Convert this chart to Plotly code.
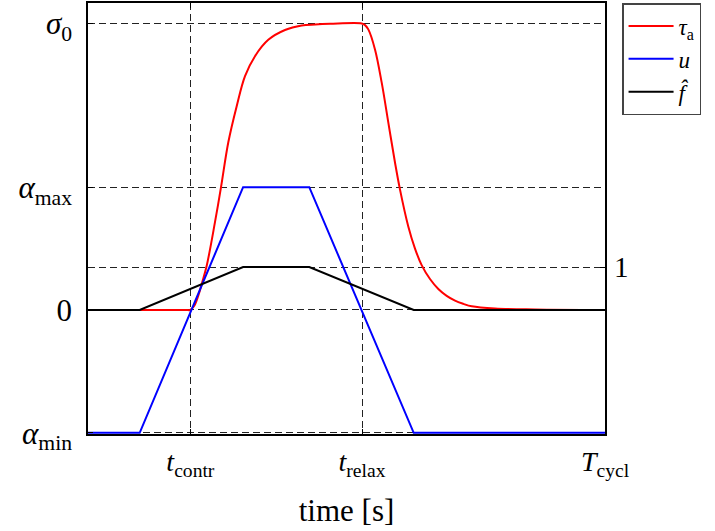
import plotly.graph_objects as go

# ---- data (time normalised to T_cycl = 1) ----
t_contr = 0.198
t_relax = 0.53
T_cycl = 1.0

alpha_min = -1.0
alpha_max = 1.0
f_one = 0.35
sigma0 = 2.333

x_ticks = [t_contr, t_relax, T_cycl]
x_ticktext = ["<i>t</i><sub>contr</sub>", "<i>t</i><sub>relax</sub>", "<i>T</i><sub>cycl</sub>"]
y_ticks = [alpha_min, 0.0, alpha_max, sigma0]
y_ticktext = ["<i>α</i><sub>min</sub>", "0", "<i>α</i><sub>max</sub>", "<i>σ</i><sub>0</sub>"]

tau_t = [0.0, 0.19, 0.1973, 0.2050, 0.2133, 0.2205, 0.2296, 0.2456, 0.2573, 0.2714, 0.2876,
         0.3037, 0.3230, 0.3487, 0.3810, 0.4133, 0.4391, 0.4681, 0.5294, 0.5358,
         0.5422, 0.5551, 0.5681, 0.5809, 0.5938, 0.6035, 0.6195, 0.6325, 0.6454,
         0.6615, 0.6776, 0.6938, 0.7099, 0.7260, 0.7422, 0.7872, 0.8646, 1.0]
tau_a = [0.0, 0.0, 0.0, 0.03, 0.116, 0.22, 0.36, 0.715, 1.0, 1.366, 1.66,
         1.905, 2.067, 2.2, 2.28, 2.317, 2.325, 2.33, 2.333, 2.32,
         2.285, 2.122, 1.851, 1.526, 1.201, 0.98, 0.68, 0.50, 0.365,
         0.252, 0.171, 0.115, 0.076, 0.050, 0.030, 0.012, 0.004, 0.0]

u_t = [0.0, 0.1, 0.3, 0.428, 0.63, 1.0]
u = [-1.0, -1.0, 1.0, 1.0, -1.0, -1.0]

f_t = [0.0, 0.1, 0.3, 0.428, 0.63, 1.0]
f_hat = [0.0, 0.0, 0.35, 0.35, 0.0, 0.0]

FONT = "Liberation Serif"
GRID = dict(showgrid=True, gridcolor="#222", griddash="7px,4px", gridwidth=1)

fig = go.Figure()
fig.add_trace(go.Scatter(x=tau_t, y=tau_a, mode="lines", name="<i>τ</i><sub>a</sub>",
                         line=dict(color="#ff0000", width=2, shape="spline", smoothing=1.0)))
fig.add_trace(go.Scatter(x=u_t, y=u, mode="lines", name="<i>u</i>",
                         line=dict(color="#0000ff", width=2)))
fig.add_trace(go.Scatter(x=f_t, y=f_hat, mode="lines", name="<i>f̂</i>",
                         line=dict(color="#000000", width=2)))
fig.add_trace(go.Scatter(x=[None], y=[None], yaxis="y2", showlegend=False, hoverinfo="skip"))

yr = [-1.01, 2.5]
fig.update_layout(
    width=715, height=531,
    margin=dict(l=88, r=110, t=3, b=97, autoexpand=False),
    plot_bgcolor="white", paper_bgcolor="white",
    font=dict(family=FONT, size=28, color="black"),
    showlegend=True,
    legend=dict(x=1.033, y=1.0, xanchor="left", yanchor="top", itemwidth=45,
                bordercolor="#444", borderwidth=1.5, bgcolor="white",
                font=dict(family=FONT, size=23), tracegroupgap=0),
    xaxis=dict(range=[0, 1], tickmode="array", tickvals=x_ticks, ticktext=x_ticktext,
               ticks="inside", ticklen=5, tickcolor="black", showline=True,
               linecolor="black", linewidth=1.5, mirror="ticks", zeroline=False,
               tickfont=dict(size=28),
               title=dict(text="time [s]", font=dict(size=31), standoff=19),
               ticklabelstandoff=2, automargin=False, **GRID),
    yaxis=dict(range=yr, tickmode="array", tickvals=y_ticks, ticktext=y_ticktext,
               ticks="inside", ticklen=5, tickcolor="black", showline=True,
               linecolor="black", linewidth=1.5, mirror=True, zeroline=False,
               tickfont=dict(size=31),
               ticklabelstandoff=8, automargin=False, **GRID),
    yaxis2=dict(range=yr, overlaying="y", side="right", tickmode="array",
                tickvals=[f_one], ticktext=["1"], ticks="inside", ticklen=5,
                tickcolor="black", showline=False, zeroline=False,
                tickfont=dict(size=29),
                ticklabelstandoff=8, automargin=False, **GRID),
)
fig.write_html("out.html", post_script="document.body.style.margin='0px';",
               config={"displayModeBar": False})
